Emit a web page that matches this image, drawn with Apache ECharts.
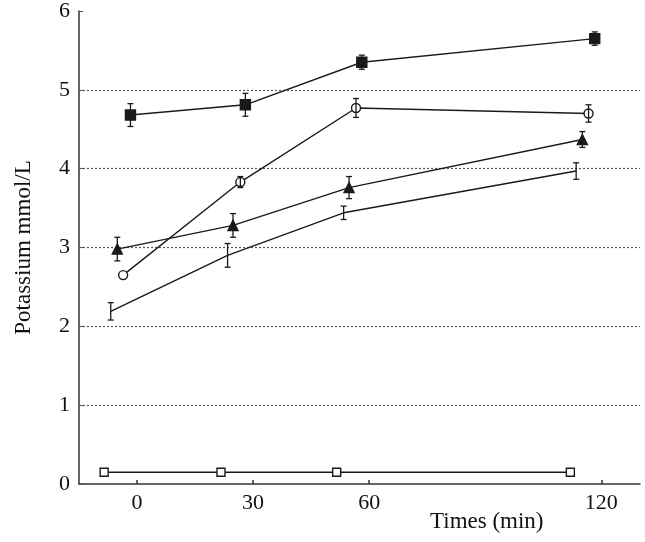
<!DOCTYPE html>
<html>
<head>
<meta charset="utf-8">
<script src="https://cdn.jsdelivr.net/npm/echarts@6/dist/echarts.min.js"></script>
<style>
  html, body { margin: 0; padding: 0; background: #fff; }
  #chart { width: 645px; height: 542px; }
</style>
</head>
<body>
<div id="chart"></div>
<script>
// x tick labels (min)
const timeTicks = [0, 30, 60, 120];

// filled squares
const sqFilledT = [-1.7, 28.0, 58.1, 118.3];
const sqFilledK = [4.68, 4.81, 5.35, 5.65];
const sqFilledErr = [0.145, 0.145, 0.09, 0.085];

// open circles
const circT = [-3.6, 26.7, 56.6, 116.7];
const circK = [2.65, 3.83, 4.77, 4.70];
const circErr = [0, 0.07, 0.12, 0.11];

// filled triangles
const triT = [-5.1, 24.8, 54.8, 115.1];
const triK = [2.98, 3.28, 3.76, 4.37];
const triErr = [0.15, 0.15, 0.14, 0.10];

// error bar only ("I" marker)
const barT = [-6.8, 23.4, 53.4, 113.5];
const barK = [2.19, 2.90, 3.44, 3.97];
const barErr = [0.11, 0.15, 0.085, 0.105];

// open squares
const sqOpenT = [-8.5, 21.7, 51.6, 112.0];
const sqOpenK = [0.15, 0.15, 0.15, 0.15];

const ink = '#1a1a1a';
const serif = 'Liberation Serif, Times New Roman, serif';

const zip = (xs, ys) => xs.map((x, i) => [x, ys[i]]);
const errData = (xs, ys, es) => xs.map((x, i) => [x, ys[i] - es[i], ys[i] + es[i]]).filter((d, i) => es[i] > 0);

const lineSeries = (name, xs, ys, symbol, size, fill) => ({
  name,
  type: 'line',
  data: zip(xs, ys),
  symbol,
  symbolSize: size,
  showSymbol: symbol !== 'none',
  lineStyle: { color: ink, width: 1.4 },
  itemStyle: { color: fill, borderColor: ink, borderWidth: 1.4 },
  z: 3,
  animation: false
});

const errSeries = (data) => ({
  type: 'custom',
  data,
  z: 4,
  animation: false,
  renderItem: (params, api) => {
    const lo = api.coord([api.value(0), api.value(1)]);
    const hi = api.coord([api.value(0), api.value(2)]);
    const w = 3;
    const style = { stroke: ink, lineWidth: 1.3 };
    return {
      type: 'group',
      children: [
        { type: 'line', shape: { x1: lo[0], y1: lo[1], x2: hi[0], y2: hi[1] }, style },
        { type: 'line', shape: { x1: lo[0] - w, y1: lo[1], x2: lo[0] + w, y2: lo[1] }, style },
        { type: 'line', shape: { x1: hi[0] - w, y1: hi[1], x2: hi[0] + w, y2: hi[1] }, style }
      ]
    };
  }
});

const chart = echarts.init(document.getElementById('chart'));

chart.setOption({
  backgroundColor: '#fff',
  animation: false,
  grid: { left: 79, right: 5, top: 11, bottom: 58 },
  xAxis: {
    type: 'value',
    min: -15,
    max: 130,
    axisLine: { show: true, onZero: false, lineStyle: { color: '#333', width: 1.5 } },
    axisTick: { show: true, inside: true, length: 4, customValues: timeTicks, lineStyle: { color: '#333', width: 1.5 } },
    axisLabel: { customValues: timeTicks, color: '#111', fontFamily: serif, fontSize: 22, margin: 8 },
    splitLine: { show: false }
  },
  yAxis: {
    type: 'value',
    min: 0,
    max: 6,
    interval: 1,
    name: 'Potassium mmol/L',
    nameLocation: 'middle',
    nameGap: 44,
    nameTextStyle: { color: '#111', fontFamily: serif, fontSize: 23 },
    axisLine: { show: true, onZero: false, lineStyle: { color: '#333', width: 1.5 } },
    axisTick: { show: true, inside: true, length: 4, lineStyle: { color: '#555', width: 1 } },
    axisLabel: { color: '#111', fontFamily: serif, fontSize: 22, margin: 9 },
    splitLine: {
      show: true,
      showMinLine: false,
      showMaxLine: false,
      lineStyle: { color: '#555', width: 1.2, type: [2, 2] }
    }
  },
  graphic: [{
    type: 'text',
    left: 430,
    top: 510,
    style: { text: 'Times (min)', fill: '#111', font: '23px ' + serif }
  }],
  series: [
    lineSeries('filled square', sqFilledT, sqFilledK, 'rect', 10, ink),
    lineSeries('open circle', circT, circK, 'circle', 9, '#fff'),
    lineSeries('filled triangle', triT, triK, 'triangle', 10, ink),
    lineSeries('bar', barT, barK, 'none', 1, ink),
    lineSeries('open square', sqOpenT, sqOpenK, 'rect', 8, '#fff'),
    errSeries(errData(sqFilledT, sqFilledK, sqFilledErr)),
    errSeries(errData(circT, circK, circErr)),
    errSeries(errData(triT, triK, triErr)),
    errSeries(errData(barT, barK, barErr))
  ]
});
</script>
</body>
</html>
